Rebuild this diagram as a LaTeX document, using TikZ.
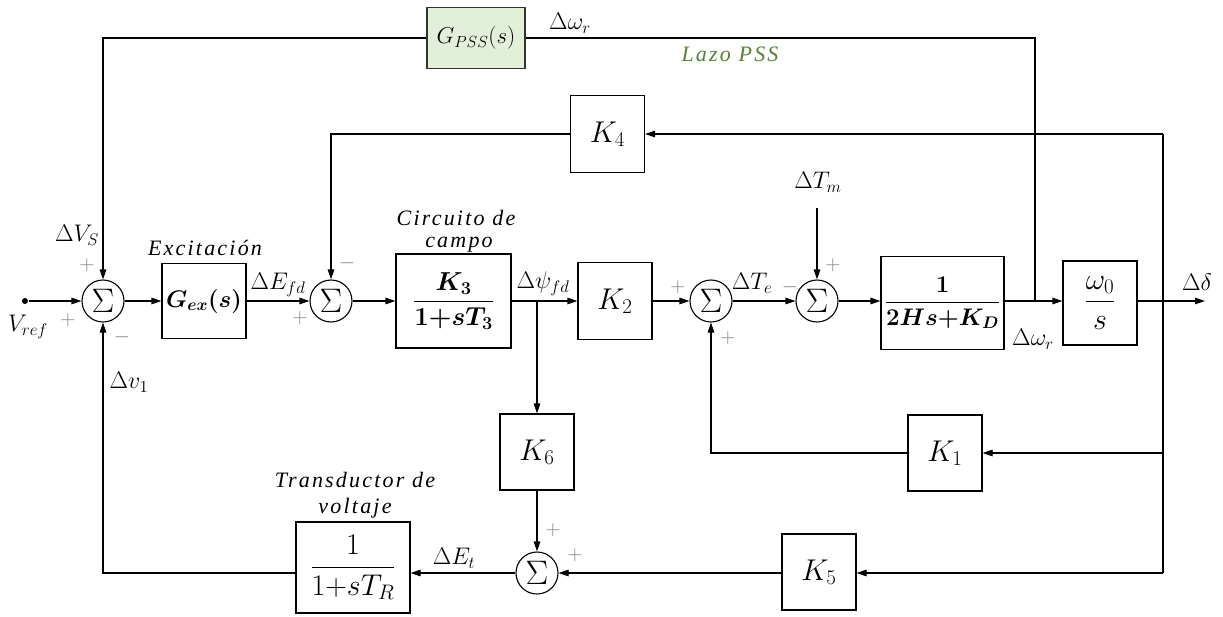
\RequirePackage{fix-cm}
\documentclass[tikz,border=0pt]{standalone}
\usepackage{amsmath}
\usepackage{fontspec}
\newfontfamily\annot[LetterSpace=10, ItalicFont={Liberation Serif Italic}]{Liberation Serif}
\usetikzlibrary{arrows.meta}
\definecolor{pssgreen}{HTML}{548235}
\definecolor{pssfill}{HTML}{E2F0D9}
\begin{document}
\begin{tikzpicture}[x=1pt,y=-1pt, line width=1.1pt,
  >={Triangle[length=10pt,width=6.5pt]},
  blk/.style={draw, line width=1.1pt, inner sep=0pt, fill=white},
  kbox/.style={blk, minimum width=74pt, minimum height=77pt, font=\fontsize{30}{32}\selectfont},
  fracbox/.style={blk, font=\fontsize{26}{30}\selectfont},
  sumn/.style={circle, draw, line width=1.1pt, minimum size=42pt, inner sep=0pt, font=\fontsize{34}{36}\selectfont},
  lbl/.style={font=\fontsize{24}{26}\selectfont, inner sep=0pt},
  sgn/.style={font=\fontsize{21}{24}\selectfont, text=black!50, inner sep=0pt},
  note/.style={font=\annot\itshape\fontsize{22}{24}\selectfont, inner sep=0pt}]
\useasboundingbox (0,0) rectangle (1223,616);

% main row
\node[circle, fill, inner sep=0pt, minimum size=6pt] (vref) at (25,301) {};
\node[sumn] (s1) at (103,301) {$\Sigma$};
\node[fracbox, minimum width=84pt, minimum height=75pt, font=\fontsize{24}{26}\selectfont] (gex) at (204,301) {$\boldsymbol{G_{ex}(s)}$};
\node[sumn] (s2) at (331,301) {$\Sigma$};
\node[fracbox, minimum width=115pt, minimum height=94pt] (k3) at (453.5,301) {$\dfrac{\boldsymbol{K_3}}{\boldsymbol{1{+}sT_3}}$};
\coordinate (b1) at (537,301);
\node[kbox] (k2) at (615,301) {$K_2$};
\node[sumn] (s3) at (711,301) {$\Sigma$};
\node[sumn] (s4) at (817,301) {$\Sigma$};
\coordinate (tm) at (817,208);
\node[fracbox, minimum width=123pt, minimum height=93pt, font=\fontsize{24}{28}\selectfont] (kd) at (942.5,303) {$\dfrac{\boldsymbol{1}}{\boldsymbol{2Hs{+}K_D}}$};
\coordinate (b2) at (1035,301);
\node[fracbox, minimum width=74pt, minimum height=84pt, font=\fontsize{30}{32}\selectfont] (w0) at (1100,303) {$\dfrac{\omega_0}{s}$};
\coordinate (b3) at (1163,301);
\coordinate (out) at (1205,301);

% PSS loop
\node[blk, fill=pssfill, draw=black!80, minimum width=98pt, minimum height=61pt, font=\fontsize{23}{24}\selectfont] (gpss) at (476,38) {$G_{PSS}(s)$};

% K4 loop
\node[kbox] (k4) at (607.5,134) {$K_4$};
\coordinate (rk4) at (1163,134);

% lower part
\node[kbox, minimum height=76pt] (k6) at (537,452) {$K_6$};
\node[sumn] (s5) at (537,573) {$\Sigma$};
\node[kbox, minimum height=76pt] (k1) at (945,453) {$K_1$};
\coordinate (rk1) at (1163,453);
\node[kbox, minimum height=76pt] (k5) at (819,572) {$K_5$};
\coordinate (rk5) at (1163,573);
\node[fracbox, minimum width=114pt, minimum height=91pt, font=\fontsize{30}{32}\selectfont] (tr) at (353,567.5) {$\dfrac{1}{1{+}sT_R}$};

% connectors main row
\draw[->] (vref) -- (s1);
\draw[->] (s1) -- (gex);
\draw[->] (gex) -- (s2);
\draw[->] (s2) -- (k3);
\draw[->] (k3.east) -- (k2.west);
\draw[->] (k2) -- (s3);
\draw[->] (s3) -- (s4);
\draw[->] (tm) -- (s4);
\draw[->] (s4) -- (kd.west |- s4);
\draw[->] (kd.east |- s4) -- (w0.west |- s4);
\draw[->] (w0.east |- s4) -- (out);

% PSS
\draw (b2) |- (gpss.east);
\draw[->] (gpss.west) -| (s1.north);

% right vertical
\draw (rk4) -- (rk5);
\draw[->] (rk4) -- (k4);
\draw[->] (k4) -| (s2.north);
\draw[->] (rk1) -- (k1);
\draw[->] (k1) -| (s3.south);
\draw[->] (rk5) -- (k5.east |- rk5);
\draw[->] (k5.west |- rk5) -- (s5);
\draw[->] (b1) -- (k6);
\draw[->] (k6) -- (s5);
\draw[->] (s5.west) -- (s5.west -| tr.east);
\draw[->] (tr.west |- s5) -| (s1.south);

% labels
\node[lbl] (lvref) at (28,327) {$V_{ref}$};
\node[lbl] (lvs) at (77,235) {$\Delta V_S$};
\node[lbl] (lv1) at (129,382) {$\Delta v_1$};
\node[lbl] (lefd) at (278,285) {$\Delta E_{fd}$};
\node[lbl] (lpsi) at (543,284) {$\Delta\psi_{fd}$};
\node[lbl] (lte) at (752,283) {$\Delta T_e$};
\node[lbl] (ltm) at (818,182) {$\Delta T_m$};
\node[lbl] (lwr) at (1033,339) {$\Delta\omega_r$};
\node[lbl] (ld) at (1197,282) {$\Delta\delta$};
\node[lbl] (lwr2) at (570,23) {$\Delta\omega_r$};
\node[lbl] (let) at (454,558) {$\Delta E_t$};

% signs
\node[sgn] (p1) at (87,265) {$+$};
\node[sgn] (p2) at (68,320) {$+$};
\node[sgn] (m1) at (122,337) {$-$};
\node[sgn] (p3) at (300,318) {$+$};
\node[sgn] (m2) at (347,263) {$-$};
\node[sgn] (p4) at (678,287) {$+$};
\node[sgn] (p5) at (728,338) {$+$};
\node[sgn] (m3) at (790,287) {$-$};
\node[sgn] (p6) at (833,265) {$+$};
\node[sgn] (p7) at (553,530) {$+$};
\node[sgn] (p8) at (575,555) {$+$};

% notes
\node[note] (nexc) at (205,248) {Excitación};
\node[note] (ncc1) at (456,218) {Circuito de};
\node[note] (ncc2) at (459,245) {campo};
\node[note] (ntr1) at (355,480) {Transductor de};
\node[note] (ntr2) at (355,508) {voltaje};
\node[note, text=pssgreen] (npss) at (730,54) {Lazo PSS};
\end{tikzpicture}
\end{document}
